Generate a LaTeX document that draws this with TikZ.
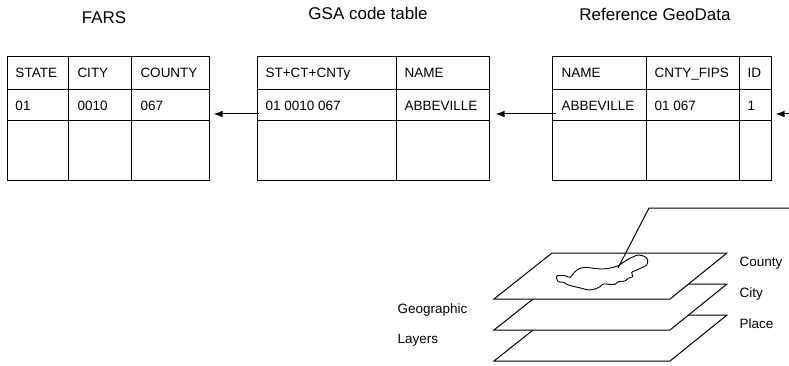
\documentclass[tikz,border=0pt]{standalone}
\usepackage{fontspec}
\setmainfont{Liberation Sans}
\usetikzlibrary{positioning,arrows.meta}

\begin{document}
\begin{tikzpicture}[x=1pt,y=-1pt,
line width=1pt,
tbl/.style={draw, minimum height=124pt, inner sep=0pt},
title/.style={font=\fontsize{17}{20}\selectfont, anchor=base, inner sep=0pt},
cell/.style={font=\fontsize{13.5}{16}\selectfont, anchor=base west, inner sep=0pt},
layer/.style={draw, fill=white, line join=miter},
link/.style={-{Latex[length=9pt,width=6.5pt]}}
]
\useasboundingbox (0,0) rectangle (789,366);

\node[title] (farsT) at (104,24) {FARS};
\node[title] (gsaT) at (368,20) {GSA code table};
\node[title] (refT) at (655,21) {Reference GeoData};

% the three tables
\node[tbl, minimum width=202pt] (fars) at (108,119) {};
\draw (7,90) -- (209,90) (7,121) -- (209,121) (68,57) -- (68,181) (131,57) -- (131,181);
\node[tbl, minimum width=232pt] (gsa) at (373,119) {};
\draw (257,90) -- (489,90) (257,121) -- (489,121) (396,57) -- (396,181);
\node[tbl, minimum width=219pt] (ref) at (661.5,119) {};
\draw (552,90) -- (771,90) (552,121) -- (771,121) (646,57) -- (646,181) (739,57) -- (739,181);

\node[cell] (state) at (15,78) {STATE};
\node[cell] (city) at (77,78) {CITY};
\node[cell] (county) at (140,78) {COUNTY};
\node[cell] (stv) at (15,111) {01};
\node[cell] (cityv) at (77,111) {0010};
\node[cell] (countyv) at (140,111) {067};

\node[cell] (key) at (265,78) {ST+CT+CNTy};
\node[cell] (gname) at (404,78) {NAME};
\node[cell] (keyv) at (265,111) {01 0010 067};
\node[cell] (gnamev) at (404,111) {ABBEVILLE};

\node[cell] (rname) at (561,78) {NAME};
\node[cell] (fips) at (654,78) {CNTY\_FIPS};
\node[cell] (id) at (747,78) {ID};
\node[cell] (rnamev) at (561,111) {ABBEVILLE};
\node[cell] (fipsv) at (654,111) {01 067};
\node[cell] (idv) at (747,111) {1};

\coordinate (feed) at (789,114);
\draw[link] (feed) -- ([xshift=4pt,yshift=5pt]ref.east);
\draw[link] ([xshift=4pt,yshift=5pt]ref.west) -- ([xshift=6pt,yshift=5pt]gsa.east);
\draw[link] ([xshift=2pt,yshift=5pt]gsa.west) -- ([xshift=4pt,yshift=5pt]fars.east);

% layers
\foreach \dy in {62,31,0}
  \filldraw[layer, shift={(0,\dy)}] (494,299) -- (670,299) -- (727,253) -- (552,253) -- cycle;

\draw[line width=0.9pt] plot[smooth cycle, tension=0.5] coordinates {
  (557.3,275.7) (565,275.7) (570,277.3) (575,271.7) (580,268.3) (586.7,267.3)
  (593.3,268.3) (603.3,269) (611.7,267.7) (618.3,265.7) (623.3,262.3) (630,258.3)
  (638.3,255) (645,256.7) (647.7,260) (646.7,265) (641.7,267.7) (636.7,270)
  (631.7,272.3) (632.7,276.7) (628.3,278.3) (625,281) (618.3,281.7) (615,284.3)
  (608.3,284.3) (603.3,284) (600,286.7) (595,289) (588.3,290) (581.7,288.3)
  (575,286.7) (568.3,285) (563.3,282.3) (558.3,281.7) (556.7,278.3)};

\coordinate (tag) at (789,208);
\coordinate (area) at (618,268);
\draw (tag) -- (649,208) -- (area);

\node[cell] (lcounty) at (739,266) {County};
\node[cell] (lcity) [below=31pt of lcounty.base west, anchor=base west] {City};
\node[cell] (lplace) [below=31pt of lcity.base west, anchor=base west] {Place};
\node[cell] (geo) at (397,313) {Geographic};
\node[cell] (lay) [below=30pt of geo.base west, anchor=base west] {Layers};
\end{tikzpicture}
\end{document}
